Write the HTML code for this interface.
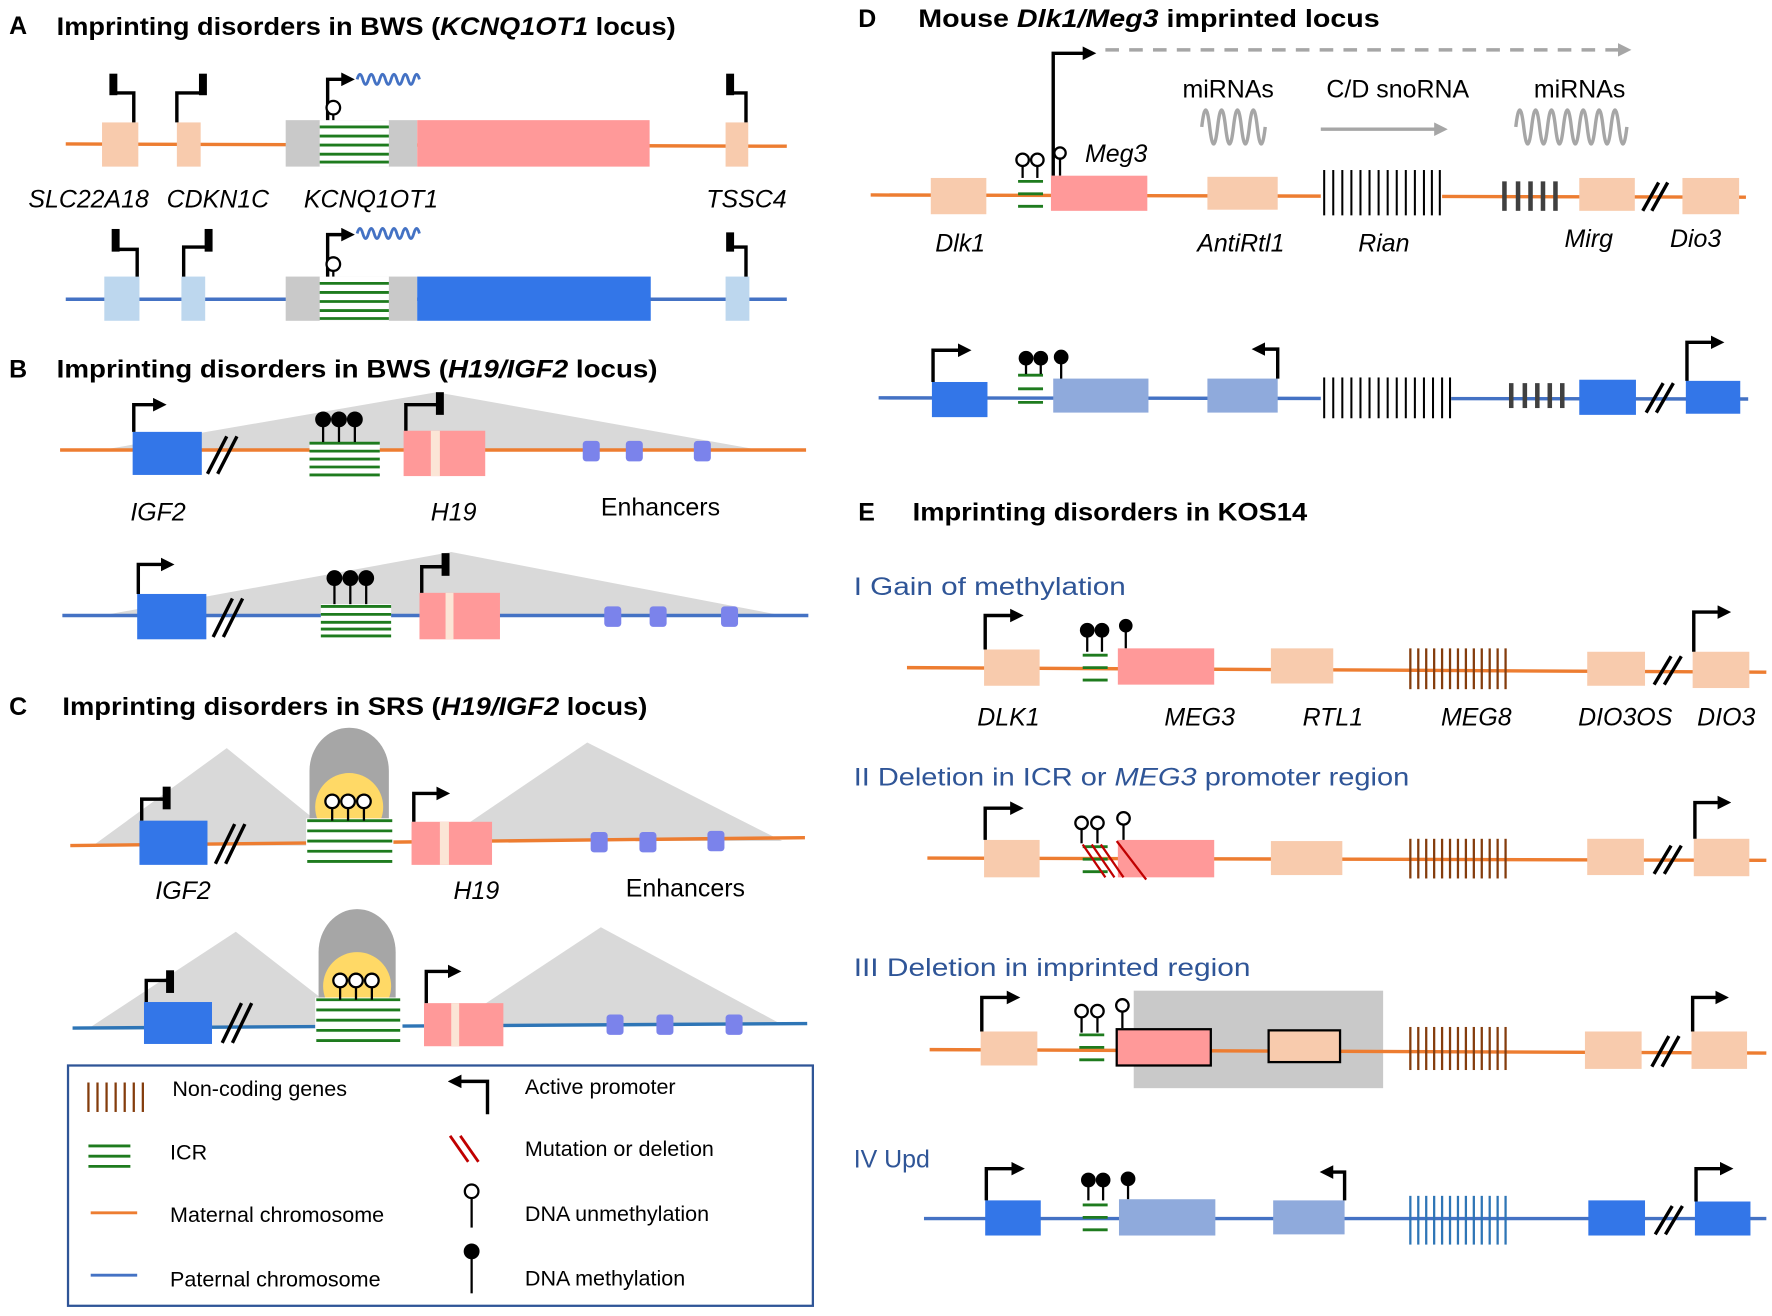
<!DOCTYPE html>
<html><head><meta charset="utf-8">
<style>
html,body{margin:0;padding:0;background:#fff;}
svg{display:block;}
text{font-family:"Liberation Sans",sans-serif;}
.t{font-weight:bold;font-size:22px;}
.g{font-style:italic;font-size:22px;}
.n{font-size:22px;}
.bl{fill:#2F5597;font-size:22px;}
.lg{font-size:19px;}
.om{stroke:#ED7D31;stroke-width:3;fill:none;}
.pa{stroke:#4472C4;stroke-width:3;fill:none;}
.k{stroke:#000;stroke-width:3;fill:none;}
.kb{stroke:#000;stroke-width:7;fill:none;}
.gr{stroke:#1E7B1E;stroke-width:2.5;}
.st{stroke:#000;stroke-width:2;}
.uc{fill:#fff;stroke:#000;stroke-width:2;}
</style></head><body>
<svg width="1772" height="1316" viewBox="0 0 1563 1161" preserveAspectRatio="none" xmlns="http://www.w3.org/2000/svg">
<defs>
<marker id="ah" markerWidth="4" markerHeight="4" refX="1" refY="2" orient="auto" markerUnits="strokeWidth"><path d="M0,0 L4,2 L0,4z" fill="#000"/></marker>
<marker id="ag" markerWidth="4" markerHeight="4" refX="1" refY="2" orient="auto" markerUnits="strokeWidth"><path d="M0,0 L4,2 L0,4z" fill="#A6A6A6"/></marker>
</defs>

<!-- ===== A ===== -->
<text x="8" y="30" class="t">A</text>
<text x="50" y="31" class="t" textLength="546" lengthAdjust="spacingAndGlyphs">Imprinting disorders in BWS (<tspan font-style="italic">KCNQ1OT1</tspan> locus)</text>
<line x1="58" y1="127" x2="694" y2="129" class="om"/>
<rect x="90" y="108" width="32" height="39" fill="#F8CBAD"/>
<rect x="156" y="108" width="21" height="39" fill="#F8CBAD"/>
<rect x="252" y="106" width="116" height="41" fill="#C9C9C9"/>
<rect x="282" y="106" width="61" height="41" fill="#fff"/>
<g class="gr"><line x1="282" y1="112" x2="343" y2="112"/><line x1="282" y1="120" x2="343" y2="120"/><line x1="282" y1="128" x2="343" y2="128"/><line x1="282" y1="136" x2="343" y2="136"/><line x1="282" y1="143" x2="343" y2="143"/></g>
<rect x="368" y="106" width="205" height="41" fill="#FF9999"/>
<rect x="640" y="108" width="20" height="39" fill="#F8CBAD"/>
<path d="M118 108 V82 H102" class="k"/><line x1="100" y1="65" x2="100" y2="84" class="kb"/>
<path d="M156 108 V82 H178" class="k"/><line x1="179" y1="65" x2="179" y2="84" class="kb"/>
<path d="M658 108 V82 H642" class="k"/><line x1="644" y1="65" x2="644" y2="84" class="kb"/>
<path d="M289 106 V70 H304" class="k" marker-end="url(#ah)"/>
<line x1="294" y1="106" x2="294" y2="100" class="st"/><circle cx="294" cy="95" r="6" class="uc"/>
<path d="M315 70 q2.5 -9 5 0 t5 0 t5 0 t5 0 t5 0 t5 0 t5 0 t5 0 t5 0 t5 0 t5 0" stroke="#4472C4" stroke-width="2.5" fill="none"/>
<text x="25" y="183" class="g">SLC22A18</text>
<text x="147" y="183" class="g">CDKN1C</text>
<text x="268" y="183" class="g">KCNQ1OT1</text>
<text x="623" y="183" class="g">TSSC4</text>

<line x1="58" y1="264" x2="694" y2="264" class="pa"/>
<rect x="92" y="244" width="31" height="39" fill="#BDD7EE"/>
<rect x="160" y="244" width="21" height="39" fill="#BDD7EE"/>
<rect x="252" y="244" width="116" height="39" fill="#C9C9C9"/>
<rect x="282" y="244" width="61" height="39" fill="#fff"/>
<g class="gr"><line x1="282" y1="250" x2="343" y2="250"/><line x1="282" y1="258" x2="343" y2="258"/><line x1="282" y1="266" x2="343" y2="266"/><line x1="282" y1="274" x2="343" y2="274"/><line x1="282" y1="281" x2="343" y2="281"/></g>
<rect x="368" y="244" width="206" height="39" fill="#3376E8"/>
<rect x="640" y="244" width="21" height="39" fill="#BDD7EE"/>
<path d="M121 244 V220 H104" class="k"/><line x1="102" y1="202" x2="102" y2="222" class="kb"/>
<path d="M162 244 V218 H183" class="k"/><line x1="184" y1="202" x2="184" y2="222" class="kb"/>
<path d="M658 244 V218 H642" class="k"/><line x1="644" y1="205" x2="644" y2="222" class="kb"/>
<path d="M289 244 V207 H304" class="k" marker-end="url(#ah)"/>
<line x1="294" y1="244" x2="294" y2="238" class="st"/><circle cx="294" cy="233" r="6" class="uc"/>
<path d="M315 206 q2.5 -9 5 0 t5 0 t5 0 t5 0 t5 0 t5 0 t5 0 t5 0 t5 0 t5 0 t5 0" stroke="#4472C4" stroke-width="2.5" fill="none"/>

<!-- ===== B ===== -->
<text x="8" y="333" class="t">B</text>
<text x="50" y="333" class="t" textLength="530" lengthAdjust="spacingAndGlyphs">Imprinting disorders in BWS (<tspan font-style="italic">H19/IGF2</tspan> locus)</text>
<polygon points="90,397 385,346 670,397" fill="#D9D9D9"/>
<line x1="53" y1="397" x2="711" y2="397" class="om"/>
<rect x="117" y="381" width="61" height="38" fill="#3376E8"/>
<path d="M118 381 V357 H138" class="k" marker-end="url(#ah)"/>
<g class="k"><line x1="183" y1="418" x2="200" y2="385"/><line x1="192" y1="418" x2="209" y2="385"/></g>
<rect x="273" y="390" width="62" height="30" fill="#fff"/>
<g class="gr"><line x1="273" y1="391" x2="335" y2="391"/><line x1="273" y1="398" x2="335" y2="398"/><line x1="273" y1="405" x2="335" y2="405"/><line x1="273" y1="412" x2="335" y2="412"/><line x1="273" y1="419" x2="335" y2="419"/></g>
<g class="st"><line x1="285" y1="370" x2="285" y2="390"/><line x1="299" y1="370" x2="299" y2="390"/><line x1="313" y1="370" x2="313" y2="390"/></g>
<circle cx="285" cy="370" r="7"/><circle cx="299" cy="370" r="7"/><circle cx="313" cy="370" r="7"/>
<rect x="356" y="380" width="72" height="40" fill="#FF9999"/><rect x="380" y="380" width="8" height="40" fill="#FBE5D6"/>
<path d="M358 380 V357 H386" class="k"/><line x1="388" y1="346" x2="388" y2="366" class="kb"/>
<rect x="514" y="389" width="15" height="18" rx="3" fill="#7B83EB"/><rect x="552" y="389" width="15" height="18" rx="3" fill="#7B83EB"/><rect x="612" y="389" width="15" height="18" rx="3" fill="#7B83EB"/>
<text x="115" y="459" class="g">IGF2</text>
<text x="380" y="459" class="g">H19</text>
<text x="530" y="455" class="n">Enhancers</text>

<polygon points="90,543 398,487 690,543" fill="#D9D9D9"/>
<line x1="55" y1="543" x2="713" y2="543" class="pa"/>
<rect x="121" y="524" width="61" height="40" fill="#3376E8"/>
<path d="M122 524 V498 H145" class="k" marker-end="url(#ah)"/>
<g class="k"><line x1="188" y1="562" x2="205" y2="528"/><line x1="197" y1="562" x2="214" y2="528"/></g>
<rect x="283" y="533" width="62" height="30" fill="#fff"/>
<g class="gr"><line x1="283" y1="535" x2="345" y2="535"/><line x1="283" y1="542" x2="345" y2="542"/><line x1="283" y1="549" x2="345" y2="549"/><line x1="283" y1="555" x2="345" y2="555"/><line x1="283" y1="561" x2="345" y2="561"/></g>
<g class="st"><line x1="295" y1="510" x2="295" y2="533"/><line x1="309" y1="510" x2="309" y2="533"/><line x1="323" y1="510" x2="323" y2="533"/></g>
<circle cx="295" cy="510" r="7"/><circle cx="309" cy="510" r="7"/><circle cx="323" cy="510" r="7"/>
<rect x="370" y="523" width="71" height="41" fill="#FF9999"/><rect x="393" y="523" width="7" height="41" fill="#FBE5D6"/>
<path d="M372 523 V500 H391" class="k"/><line x1="393" y1="488" x2="393" y2="508" class="kb"/>
<rect x="533" y="535" width="15" height="18" rx="3" fill="#7B83EB"/><rect x="573" y="535" width="15" height="18" rx="3" fill="#7B83EB"/><rect x="636" y="535" width="15" height="18" rx="3" fill="#7B83EB"/>

<!-- ===== C ===== -->
<text x="8" y="631" class="t">C</text>
<text x="55" y="631" class="t" textLength="516" lengthAdjust="spacingAndGlyphs">Imprinting disorders in SRS (<tspan font-style="italic">H19/IGF2</tspan> locus)</text>
<polygon points="82,746 200,660 306,746" fill="#D9D9D9"/>
<polygon points="390,742 518,655 690,742" fill="#D9D9D9"/>
<line x1="62" y1="746" x2="710" y2="739" class="om"/>
<rect x="123" y="724" width="60" height="39" fill="#3376E8"/>
<path d="M125 724 V705 H145" class="k"/><line x1="147" y1="694" x2="147" y2="714" class="kb"/>
<g class="k"><line x1="190" y1="762" x2="207" y2="727"/><line x1="199" y1="762" x2="216" y2="727"/></g>
<path d="M273 722 V680 A35 38 0 0 1 343 680 V722 Z" fill="#A6A6A6"/>
<circle cx="308" cy="712" r="30" fill="#FFD966"/>
<rect x="270" y="722" width="77" height="40" fill="#fff"/>
<g class="gr"><line x1="271" y1="724" x2="346" y2="724"/><line x1="271" y1="733" x2="346" y2="733"/><line x1="271" y1="742" x2="346" y2="742"/><line x1="271" y1="751" x2="346" y2="751"/><line x1="271" y1="760" x2="346" y2="760"/></g>
<g class="st"><line x1="293" y1="713" x2="293" y2="724"/><line x1="307" y1="713" x2="307" y2="724"/><line x1="321" y1="713" x2="321" y2="724"/></g>
<circle cx="293" cy="707" r="6" class="uc"/><circle cx="307" cy="707" r="6" class="uc"/><circle cx="321" cy="707" r="6" class="uc"/>
<rect x="363" y="725" width="71" height="38" fill="#FF9999"/><rect x="388" y="725" width="8" height="38" fill="#FBE5D6"/>
<path d="M365 725 V700 H388" class="k" marker-end="url(#ah)"/>
<rect x="521" y="734" width="15" height="18" rx="3" fill="#7B83EB"/><rect x="564" y="734" width="15" height="18" rx="3" fill="#7B83EB"/><rect x="624" y="733" width="15" height="18" rx="3" fill="#7B83EB"/>
<text x="137" y="793" class="g">IGF2</text>
<text x="400" y="793" class="g">H19</text>
<text x="552" y="791" class="n">Enhancers</text>

<polygon points="80,906 208,822 316,906" fill="#D9D9D9"/>
<polygon points="400,904 530,818 690,904" fill="#D9D9D9"/>
<line x1="64" y1="907" x2="712" y2="903" stroke="#2E75B6" stroke-width="3"/>
<rect x="127" y="884" width="60" height="37" fill="#3376E8"/>
<path d="M129 884 V865 H148" class="k"/><line x1="150" y1="856" x2="150" y2="876" class="kb"/>
<g class="k"><line x1="196" y1="920" x2="213" y2="885"/><line x1="205" y1="920" x2="222" y2="885"/></g>
<path d="M281 880 V840 A34 38 0 0 1 349 840 V880 Z" fill="#A6A6A6"/>
<circle cx="315" cy="870" r="30" fill="#FFD966"/>
<rect x="278" y="880" width="77" height="40" fill="#fff"/>
<g class="gr"><line x1="279" y1="882" x2="353" y2="882"/><line x1="279" y1="891" x2="353" y2="891"/><line x1="279" y1="900" x2="353" y2="900"/><line x1="279" y1="909" x2="353" y2="909"/><line x1="279" y1="918" x2="353" y2="918"/></g>
<g class="st"><line x1="300" y1="871" x2="300" y2="882"/><line x1="314" y1="871" x2="314" y2="882"/><line x1="328" y1="871" x2="328" y2="882"/></g>
<circle cx="300" cy="865" r="6" class="uc"/><circle cx="314" cy="865" r="6" class="uc"/><circle cx="328" cy="865" r="6" class="uc"/>
<rect x="374" y="885" width="70" height="38" fill="#FF9999"/><rect x="398" y="885" width="7" height="38" fill="#FBE5D6"/>
<path d="M376 885 V857 H398" class="k" marker-end="url(#ah)"/>
<rect x="535" y="895" width="15" height="18" rx="3" fill="#7B83EB"/><rect x="579" y="895" width="15" height="18" rx="3" fill="#7B83EB"/><rect x="640" y="895" width="15" height="18" rx="3" fill="#7B83EB"/>

<!-- Legend -->
<rect x="60" y="940" width="657" height="212" fill="none" stroke="#2F5597" stroke-width="2"/>
<g stroke="#843C0C" stroke-width="2"><line x1="78" y1="955" x2="78" y2="981"/><line x1="86" y1="955" x2="86" y2="981"/><line x1="94" y1="955" x2="94" y2="981"/><line x1="102" y1="955" x2="102" y2="981"/><line x1="110" y1="955" x2="110" y2="981"/><line x1="118" y1="955" x2="118" y2="981"/><line x1="126" y1="955" x2="126" y2="981"/></g>
<text x="152" y="967" class="lg">Non-coding genes</text>
<g class="gr"><line x1="78" y1="1011" x2="115" y2="1011"/><line x1="78" y1="1020" x2="115" y2="1020"/><line x1="78" y1="1029" x2="115" y2="1029"/></g>
<text x="150" y="1023" class="lg">ICR</text>
<line x1="80" y1="1070" x2="121" y2="1070" stroke="#ED7D31" stroke-width="2.5"/>
<text x="150" y="1078" class="lg">Maternal chromosome</text>
<line x1="80" y1="1125" x2="121" y2="1125" stroke="#4472C4" stroke-width="2.5"/>
<text x="150" y="1135" class="lg">Paternal chromosome</text>
<path d="M430 983 V954 H404" class="k" marker-end="url(#ah)"/>
<text x="463" y="965" class="lg">Active promoter</text>
<g stroke="#C00000" stroke-width="2.5"><line x1="397" y1="1002" x2="413" y2="1025"/><line x1="406" y1="1002" x2="422" y2="1025"/></g>
<text x="463" y="1020" class="lg">Mutation or deletion</text>
<line x1="416" y1="1057" x2="416" y2="1083" class="st"/><circle cx="416" cy="1051" r="6" class="uc"/>
<text x="463" y="1077" class="lg">DNA unmethylation</text>
<line x1="416" y1="1103" x2="416" y2="1141" class="st"/><circle cx="416" cy="1104" r="7"/>
<text x="463" y="1134" class="lg">DNA methylation</text>

<!-- ===== D ===== -->
<text x="757" y="24" class="t">D</text>
<text x="810" y="24" class="t" textLength="407" lengthAdjust="spacingAndGlyphs">Mouse <tspan font-style="italic">Dlk1/Meg3</tspan> imprinted locus</text>
<line x1="975" y1="44" x2="1430" y2="44" stroke="#A6A6A6" stroke-width="3" stroke-dasharray="12,9" marker-end="url(#ag)"/>
<path d="M929 155 V47 H958" class="k" marker-end="url(#ah)"/>
<text x="1043" y="86" class="n">miRNAs</text>
<text x="1170" y="86" class="n">C/D snoRNA</text>
<text x="1353" y="86" class="n">miRNAs</text>
<path d="M1060 112 q3.5 -30 7 0 t7 0 t7 0 t7 0 t7 0 t7 0 t7 0 t7 0" stroke="#A6A6A6" stroke-width="3" fill="none"/>
<path d="M1337 112 q3.5 -30 7 0 t7 0 t7 0 t7 0 t7 0 t7 0 t7 0 t7 0 t7 0 t7 0 t7 0 t7 0 t7 0 t7 0" stroke="#A6A6A6" stroke-width="3" fill="none"/>
<line x1="1165" y1="114" x2="1268" y2="114" stroke="#A6A6A6" stroke-width="3" marker-end="url(#ag)"/>
<line x1="768" y1="172" x2="1540" y2="174" class="om"/>
<rect x="821" y="157" width="49" height="32" fill="#F8CBAD"/>
<g class="gr"><line x1="898" y1="160" x2="920" y2="160"/><line x1="898" y1="171" x2="920" y2="171"/><line x1="898" y1="182" x2="920" y2="182"/></g>
<g class="st"><line x1="902" y1="146" x2="902" y2="157"/><line x1="915" y1="146" x2="915" y2="157"/><line x1="935" y1="140" x2="935" y2="155"/></g>
<circle cx="902" cy="141" r="5.5" class="uc"/><circle cx="915" cy="141" r="5.5" class="uc"/><circle cx="935" cy="135" r="5" class="uc"/>
<rect x="927" y="155" width="85" height="31" fill="#FF9999"/>
<text x="957" y="143" class="g">Meg3</text>
<rect x="1065" y="156" width="62" height="29" fill="#F8CBAD"/>
<rect x="1165" y="148" width="107" height="42" fill="#fff"/>
<g stroke="#000" stroke-width="1.8"><line x1="1168" y1="150" x2="1168" y2="190"/><line x1="1176" y1="150" x2="1176" y2="190"/><line x1="1184" y1="150" x2="1184" y2="190"/><line x1="1192" y1="150" x2="1192" y2="190"/><line x1="1200" y1="150" x2="1200" y2="190"/><line x1="1208" y1="150" x2="1208" y2="190"/><line x1="1216" y1="150" x2="1216" y2="190"/><line x1="1224" y1="150" x2="1224" y2="190"/><line x1="1232" y1="150" x2="1232" y2="190"/><line x1="1240" y1="150" x2="1240" y2="190"/><line x1="1248" y1="150" x2="1248" y2="190"/><line x1="1256" y1="150" x2="1256" y2="190"/><line x1="1263" y1="150" x2="1263" y2="190"/><line x1="1270" y1="150" x2="1270" y2="190"/></g>
<g stroke="#404040" stroke-width="4"><line x1="1327" y1="160" x2="1327" y2="186"/><line x1="1339" y1="160" x2="1339" y2="186"/><line x1="1350" y1="160" x2="1350" y2="186"/><line x1="1361" y1="160" x2="1361" y2="186"/><line x1="1372" y1="160" x2="1372" y2="186"/></g>
<rect x="1393" y="157" width="49" height="29" fill="#F8CBAD"/>
<g class="k"><line x1="1449" y1="186" x2="1463" y2="161"/><line x1="1457" y1="186" x2="1471" y2="161"/></g>
<rect x="1484" y="157" width="50" height="32" fill="#F8CBAD"/>
<text x="825" y="222" class="g">Dlk1</text>
<text x="1056" y="222" class="g">AntiRtl1</text>
<text x="1198" y="222" class="g">Rian</text>
<text x="1380" y="218" class="g">Mirg</text>
<text x="1473" y="218" class="g">Dio3</text>

<line x1="775" y1="351" x2="1542" y2="352" class="pa"/>
<rect x="822" y="337" width="49" height="31" fill="#3376E8"/>
<path d="M823 337 V309 H848" class="k" marker-end="url(#ah)"/>
<g class="gr"><line x1="898" y1="331" x2="920" y2="331"/><line x1="898" y1="343" x2="920" y2="343"/><line x1="898" y1="355" x2="920" y2="355"/></g>
<g class="st"><line x1="905" y1="317" x2="905" y2="330"/><line x1="918" y1="317" x2="918" y2="330"/><line x1="936" y1="317" x2="936" y2="335"/></g>
<circle cx="905" cy="316" r="6.5"/><circle cx="918" cy="316" r="6.5"/><circle cx="936" cy="315" r="6.5"/>
<rect x="929" y="334" width="84" height="30" fill="#8FAADC"/>
<rect x="1065" y="334" width="62" height="30" fill="#8FAADC"/>
<path d="M1127 334 V308 H1113" class="k" marker-end="url(#ah)"/>
<rect x="1165" y="333" width="115" height="36" fill="#fff"/>
<g stroke="#000" stroke-width="1.8"><line x1="1168" y1="333" x2="1168" y2="369"/><line x1="1176" y1="333" x2="1176" y2="369"/><line x1="1184" y1="333" x2="1184" y2="369"/><line x1="1192" y1="333" x2="1192" y2="369"/><line x1="1200" y1="333" x2="1200" y2="369"/><line x1="1208" y1="333" x2="1208" y2="369"/><line x1="1216" y1="333" x2="1216" y2="369"/><line x1="1224" y1="333" x2="1224" y2="369"/><line x1="1232" y1="333" x2="1232" y2="369"/><line x1="1240" y1="333" x2="1240" y2="369"/><line x1="1248" y1="333" x2="1248" y2="369"/><line x1="1256" y1="333" x2="1256" y2="369"/><line x1="1264" y1="333" x2="1264" y2="369"/><line x1="1272" y1="333" x2="1272" y2="369"/><line x1="1279" y1="333" x2="1279" y2="369"/></g>
<g stroke="#404040" stroke-width="4"><line x1="1333" y1="338" x2="1333" y2="360"/><line x1="1345" y1="338" x2="1345" y2="360"/><line x1="1356" y1="338" x2="1356" y2="360"/><line x1="1367" y1="338" x2="1367" y2="360"/><line x1="1378" y1="338" x2="1378" y2="360"/></g>
<rect x="1393" y="335" width="50" height="31" fill="#3376E8"/>
<g class="k"><line x1="1452" y1="364" x2="1467" y2="338"/><line x1="1461" y1="364" x2="1476" y2="338"/></g>
<rect x="1487" y="336" width="48" height="29" fill="#3376E8"/>
<path d="M1488 336 V302 H1512" class="k" marker-end="url(#ah)"/>

<!-- ===== E ===== -->
<text x="757" y="459" class="t">E</text>
<text x="805" y="459" class="t" textLength="348" lengthAdjust="spacingAndGlyphs">Imprinting disorders in KOS14</text>
<text x="753" y="525" class="bl" textLength="240" lengthAdjust="spacingAndGlyphs">I Gain of methylation</text>
<!-- row I -->
<line x1="800" y1="589" x2="1558" y2="593" class="om"/>
<rect x="868" y="573" width="49" height="32" fill="#F8CBAD"/>
<path d="M869 573 V543 H894" class="k" marker-end="url(#ah)"/>
<g class="gr"><line x1="955" y1="578" x2="977" y2="578"/><line x1="955" y1="589" x2="977" y2="589"/><line x1="955" y1="600" x2="977" y2="600"/></g>
<g class="st"><line x1="959" y1="556" x2="959" y2="575"/><line x1="972" y1="556" x2="972" y2="575"/><line x1="993" y1="553" x2="993" y2="572"/></g>
<circle cx="959" cy="556" r="6.5"/><circle cx="972" cy="556" r="6.5"/><circle cx="993" cy="552" r="6"/>
<rect x="986" y="572" width="85" height="32" fill="#FF9999"/>
<rect x="1121" y="572" width="55" height="31" fill="#F8CBAD"/>
<g stroke="#843C0C" stroke-width="2"><line x1="1244" y1="572" x2="1244" y2="608"/><line x1="1251" y1="572" x2="1251" y2="608"/><line x1="1258" y1="572" x2="1258" y2="608"/><line x1="1265" y1="572" x2="1265" y2="608"/><line x1="1272" y1="572" x2="1272" y2="608"/><line x1="1279" y1="572" x2="1279" y2="608"/><line x1="1286" y1="572" x2="1286" y2="608"/><line x1="1293" y1="572" x2="1293" y2="608"/><line x1="1300" y1="572" x2="1300" y2="608"/><line x1="1307" y1="572" x2="1307" y2="608"/><line x1="1314" y1="572" x2="1314" y2="608"/><line x1="1321" y1="572" x2="1321" y2="608"/><line x1="1328" y1="572" x2="1328" y2="608"/></g>
<rect x="1400" y="575" width="51" height="30" fill="#F8CBAD"/>
<g class="k"><line x1="1459" y1="604" x2="1474" y2="579"/><line x1="1468" y1="604" x2="1483" y2="579"/></g>
<rect x="1493" y="575" width="50" height="32" fill="#F8CBAD"/>
<path d="M1494 575 V540 H1518" class="k" marker-end="url(#ah)"/>
<text x="862" y="640" class="g">DLK1</text>
<text x="1027" y="640" class="g">MEG3</text>
<text x="1149" y="640" class="g">RTL1</text>
<text x="1271" y="640" class="g">MEG8</text>
<text x="1392" y="640" class="g">DIO3OS</text>
<text x="1497" y="640" class="g">DIO3</text>

<text x="753" y="693" class="bl" textLength="490" lengthAdjust="spacingAndGlyphs">II Deletion in ICR or <tspan font-style="italic">MEG3</tspan> promoter region</text>
<!-- row II -->
<line x1="818" y1="757" x2="1558" y2="759" class="om"/>
<rect x="868" y="741" width="49" height="33" fill="#F8CBAD"/>
<path d="M869 741 V713 H894" class="k" marker-end="url(#ah)"/>
<g class="gr"><line x1="955" y1="747" x2="977" y2="747"/><line x1="955" y1="758" x2="977" y2="758"/><line x1="955" y1="769" x2="977" y2="769"/></g>
<g class="st"><line x1="954" y1="731" x2="954" y2="744"/><line x1="968" y1="731" x2="968" y2="744"/><line x1="991" y1="728" x2="991" y2="741"/></g>
<circle cx="954" cy="726" r="5.5" class="uc"/><circle cx="968" cy="726" r="5.5" class="uc"/><circle cx="991" cy="722" r="5.5" class="uc"/>
<rect x="986" y="741" width="85" height="33" fill="#FF9999"/>
<g stroke="#C00000" stroke-width="2"><line x1="955" y1="745" x2="975" y2="774"/><line x1="963" y1="745" x2="983" y2="774"/><line x1="971" y1="745" x2="991" y2="774"/><line x1="985" y1="742" x2="1011" y2="776"/></g>
<rect x="1121" y="742" width="63" height="30" fill="#F8CBAD"/>
<g stroke="#843C0C" stroke-width="2"><line x1="1244" y1="740" x2="1244" y2="775"/><line x1="1251" y1="740" x2="1251" y2="775"/><line x1="1258" y1="740" x2="1258" y2="775"/><line x1="1265" y1="740" x2="1265" y2="775"/><line x1="1272" y1="740" x2="1272" y2="775"/><line x1="1279" y1="740" x2="1279" y2="775"/><line x1="1286" y1="740" x2="1286" y2="775"/><line x1="1293" y1="740" x2="1293" y2="775"/><line x1="1300" y1="740" x2="1300" y2="775"/><line x1="1307" y1="740" x2="1307" y2="775"/><line x1="1314" y1="740" x2="1314" y2="775"/><line x1="1321" y1="740" x2="1321" y2="775"/><line x1="1328" y1="740" x2="1328" y2="775"/></g>
<rect x="1400" y="740" width="50" height="32" fill="#F8CBAD"/>
<g class="k"><line x1="1459" y1="771" x2="1474" y2="746"/><line x1="1468" y1="771" x2="1483" y2="746"/></g>
<rect x="1494" y="740" width="49" height="33" fill="#F8CBAD"/>
<path d="M1495 740 V708 H1518" class="k" marker-end="url(#ah)"/>

<text x="753" y="861" class="bl" textLength="350" lengthAdjust="spacingAndGlyphs">III Deletion in imprinted region</text>
<!-- row III -->
<rect x="1000" y="874" width="220" height="86" fill="#C9C9C9"/>
<line x1="820" y1="926" x2="1558" y2="929" class="om"/>
<rect x="865" y="910" width="50" height="30" fill="#F8CBAD"/>
<path d="M866 910 V880 H891" class="k" marker-end="url(#ah)"/>
<g class="gr"><line x1="952" y1="913" x2="974" y2="913"/><line x1="952" y1="924" x2="974" y2="924"/><line x1="952" y1="935" x2="974" y2="935"/></g>
<g class="st"><line x1="954" y1="897" x2="954" y2="911"/><line x1="968" y1="897" x2="968" y2="911"/><line x1="990" y1="892" x2="990" y2="907"/></g>
<circle cx="954" cy="892" r="5.5" class="uc"/><circle cx="968" cy="892" r="5.5" class="uc"/><circle cx="990" cy="887" r="5.5" class="uc"/>
<rect x="985" y="908" width="83" height="32" fill="#FF9999" stroke="#000" stroke-width="2"/>
<rect x="1119" y="909" width="63" height="28" fill="#F8CBAD" stroke="#000" stroke-width="2"/>
<g stroke="#843C0C" stroke-width="2"><line x1="1244" y1="906" x2="1244" y2="944"/><line x1="1251" y1="906" x2="1251" y2="944"/><line x1="1258" y1="906" x2="1258" y2="944"/><line x1="1265" y1="906" x2="1265" y2="944"/><line x1="1272" y1="906" x2="1272" y2="944"/><line x1="1279" y1="906" x2="1279" y2="944"/><line x1="1286" y1="906" x2="1286" y2="944"/><line x1="1293" y1="906" x2="1293" y2="944"/><line x1="1300" y1="906" x2="1300" y2="944"/><line x1="1307" y1="906" x2="1307" y2="944"/><line x1="1314" y1="906" x2="1314" y2="944"/><line x1="1321" y1="906" x2="1321" y2="944"/><line x1="1328" y1="906" x2="1328" y2="944"/></g>
<rect x="1398" y="910" width="50" height="33" fill="#F8CBAD"/>
<g class="k"><line x1="1457" y1="941" x2="1472" y2="914"/><line x1="1466" y1="941" x2="1481" y2="914"/></g>
<rect x="1492" y="910" width="49" height="33" fill="#F8CBAD"/>
<path d="M1493 910 V880 H1516" class="k" marker-end="url(#ah)"/>

<text x="753" y="1030" class="bl">IV Upd</text>
<!-- row IV -->
<line x1="815" y1="1075" x2="1558" y2="1075" class="pa"/>
<rect x="869" y="1059" width="49" height="31" fill="#3376E8"/>
<path d="M870 1059 V1031 H895" class="k" marker-end="url(#ah)"/>
<g class="gr"><line x1="955" y1="1063" x2="977" y2="1063"/><line x1="955" y1="1074" x2="977" y2="1074"/><line x1="955" y1="1085" x2="977" y2="1085"/></g>
<g class="st"><line x1="960" y1="1041" x2="960" y2="1059"/><line x1="973" y1="1041" x2="973" y2="1059"/><line x1="995" y1="1041" x2="995" y2="1058"/></g>
<circle cx="960" cy="1041" r="6.5"/><circle cx="973" cy="1041" r="6.5"/><circle cx="995" cy="1040" r="6.5"/>
<rect x="987" y="1058" width="85" height="32" fill="#8FAADC"/>
<rect x="1123" y="1059" width="63" height="30" fill="#8FAADC"/>
<path d="M1186 1059 V1034 H1173" class="k" marker-end="url(#ah)"/>
<g stroke="#2E75B6" stroke-width="2"><line x1="1244" y1="1055" x2="1244" y2="1098"/><line x1="1251" y1="1055" x2="1251" y2="1098"/><line x1="1258" y1="1055" x2="1258" y2="1098"/><line x1="1265" y1="1055" x2="1265" y2="1098"/><line x1="1272" y1="1055" x2="1272" y2="1098"/><line x1="1279" y1="1055" x2="1279" y2="1098"/><line x1="1286" y1="1055" x2="1286" y2="1098"/><line x1="1293" y1="1055" x2="1293" y2="1098"/><line x1="1300" y1="1055" x2="1300" y2="1098"/><line x1="1307" y1="1055" x2="1307" y2="1098"/><line x1="1314" y1="1055" x2="1314" y2="1098"/><line x1="1321" y1="1055" x2="1321" y2="1098"/><line x1="1328" y1="1055" x2="1328" y2="1098"/></g>
<rect x="1401" y="1059" width="50" height="31" fill="#3376E8"/>
<g class="k"><line x1="1460" y1="1089" x2="1475" y2="1064"/><line x1="1469" y1="1089" x2="1484" y2="1064"/></g>
<rect x="1495" y="1060" width="49" height="30" fill="#3376E8"/>
<path d="M1496 1060 V1031 H1520" class="k" marker-end="url(#ah)"/>
</svg>
</body></html>
